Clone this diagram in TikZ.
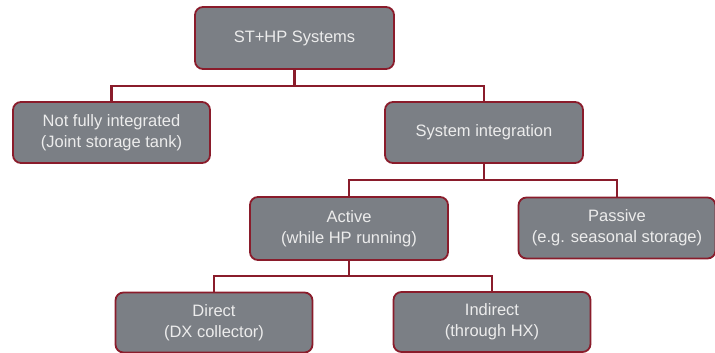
\documentclass[tikz,border=0pt]{standalone}
\usepackage{fontspec}
\setmainfont{Liberation Sans}
\usetikzlibrary{calc}

\definecolor{boxgray}{HTML}{7B7F85}
\definecolor{boxred}{HTML}{8A1C2B}
\definecolor{boxtext}{HTML}{ECECEC}

\tikzset{
  catbox/.style={draw=boxred, line width=1.8pt, fill=boxgray, rounded corners=8pt,
    minimum width=197pt, minimum height=61pt, align=center, text=boxtext,
    font=\fontsize{16.5}{21}\selectfont, inner sep=0pt},
  branch/.style={draw=boxred, line width=2.4pt}
}

\begin{document}
\begin{tikzpicture}[x=1pt, y=-1pt]
			\useasboundingbox (0,0) rectangle (715,353);
			
			% BOXES
			\node[catbox, minimum width=199pt, minimum height=62pt] (root) at (294.5, 38.0) {ST+HP Systems}; % root
			\node[catbox] (notfull) at (111.5, 132.5) {Not fully integrated\\(Joint storage tank)};
			\node[catbox, minimum width=198pt] (sysint) at (484.0, 132.5) {System integration};
			\node[catbox, minimum width=198pt, minimum height=63pt] (active) at (349.0, 228.5) {Active\\(while HP running)};
			\node[catbox] (passive) at (617.0, 228.0) {Passive\\(e.g. seasonal storage)};
			\node[catbox, minimum height=60pt] (direct) at (214.0, 322.5) {Direct\\(DX collector)};
			\node[catbox, minimum height=60pt] (indirect) at (492.0, 322.0) {Indirect\\(through HX)};
			
			% BRANCH POINTS
			\coordinate (b0) at (294.5, 86.0);
			\coordinate (b1) at (484.0, 180.0);
			\coordinate (b2) at (349.0, 276.0);
			
			% DRAW TREE
			\path[branch] (root.south)--(b0); \path[branch] (b0)-|(notfull.north);
			\path[branch] (b0)-|(sysint.north);
			\path[branch] (sysint.south)--(b1); \path[branch] (b1)-|(active.north);
			\path[branch] (b1)-|(passive.north);
			\path[branch] (active.south)--(b2); \path[branch] (b2)-|(direct.north);
			\path[branch] (b2)-|(indirect.north);
		\end{tikzpicture}
\end{document}
